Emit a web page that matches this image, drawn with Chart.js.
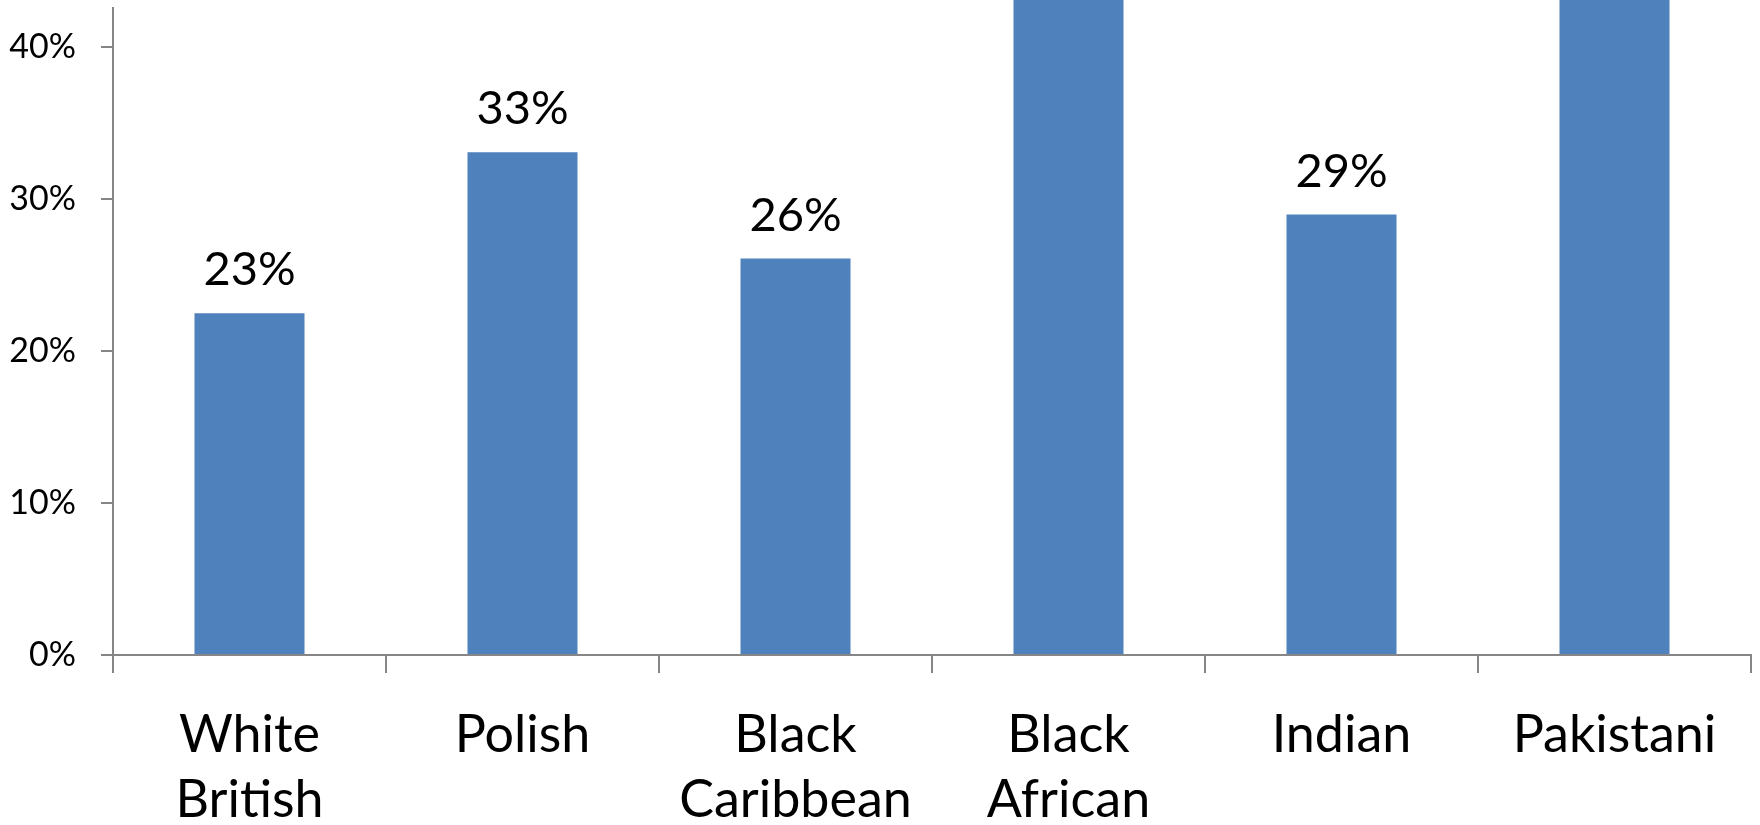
<!DOCTYPE html>
<html>
<head>
<meta charset="utf-8">
<script src="https://cdn.jsdelivr.net/npm/chart.js@4.4.1/dist/chart.umd.min.js"></script>
<style>
  html,body{margin:0;padding:0;background:#fff;}
  #wrap{width:1760px;height:825px;position:relative;}
</style>
</head>
<body>
<div id="wrap"><canvas id="chart"></canvas></div>
<script>
// chart data
const categories = [["White","British"],["Polish"],["Black","Caribbean"],["Black","African"],["Indian"],["Pakistani"]];
const shares = [0.225, 0.331, 0.261, 0.46, 0.29, 0.47];
const yTicks = [0, 0.1, 0.2, 0.3, 0.4];

const FONT = "Lato, 'Open Sans', sans-serif";
const AXIS = "#868686";

// draws the % labels above each bar
const barLabels = {
  id:"barLabels",
  afterDatasetsDraw(chart){
    const ctx = chart.ctx;
    const meta = chart.getDatasetMeta(0);
    ctx.save();
    ctx.font = "47px " + FONT;
    ctx.fillStyle = "#000";
    ctx.textAlign = "center";
    ctx.textBaseline = "alphabetic";
    meta.data.forEach((bar,i)=>{
      const v = chart.data.datasets[0].data[i];
      ctx.fillText(Math.round(v*100)+"%", bar.x, bar.y-28);
    });
    ctx.restore();
  }
};

new Chart(document.getElementById("chart"),{
  type:"bar",
  data:{labels:categories,datasets:[{data:shares,backgroundColor:"#4F81BD",borderWidth:0,
    categoryPercentage:1,barPercentage:0.403,clip:false}]},
  options:{
    responsive:true,maintainAspectRatio:false,animation:false,devicePixelRatio:1,
    layout:{padding:{top:8,right:9,left:0,bottom:0}},
    plugins:{legend:{display:false},tooltip:{enabled:false}},
    scales:{
      x:{
        grid:{display:true,drawOnChartArea:false,offset:true,color:AXIS,lineWidth:2,tickLength:18},
        border:{color:AXIS,width:2},
        ticks:{color:"#000",font:{family:FONT,size:52,lineHeight:1.25},padding:30,maxRotation:0,autoSkip:false},
        afterFit:s=>{s.height=170;s.paddingLeft=0;s.paddingRight=0;}
      },
      y:{
        min:0,max:0.426,
        grid:{display:true,drawOnChartArea:false,color:AXIS,lineWidth:2,tickLength:12},
        border:{color:AXIS,width:2},
        afterBuildTicks:s=>{s.ticks=yTicks.map(v=>({value:v}));},
        ticks:{color:"#000",font:{family:FONT,size:34},padding:25,
          callback:v=>Math.round(v*100)+"%"},
        afterFit:s=>{s.width=113;s.paddingTop=0;s.paddingBottom=0;}
      }
    }
  },
  plugins:[barLabels]
});
</script>
</body>
</html>
